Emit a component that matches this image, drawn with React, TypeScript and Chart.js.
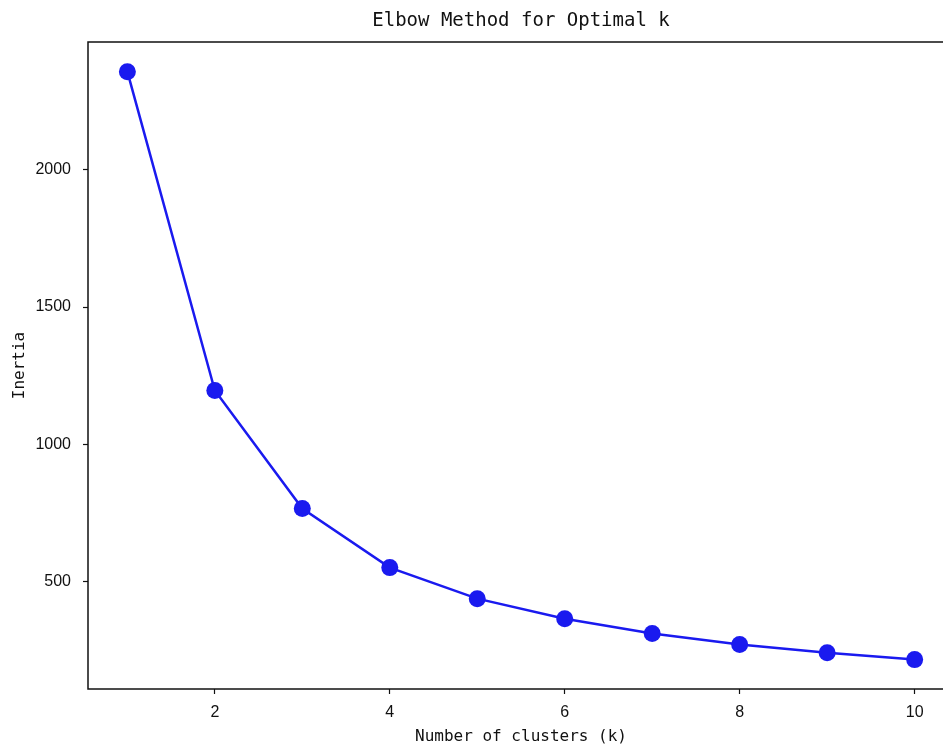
import React, { useEffect, useRef } from "react";
import { Chart, registerables } from "chart.js";

Chart.register(...registerables);

const clusterCounts = [1, 2, 3, 4, 5, 6, 7, 8, 9, 10];
const inertiaValues = [2357, 1196, 766, 551, 438, 365, 311, 271, 241, 216];
const xTicks = [2, 4, 6, 8, 10];
const yTicks = [500, 1000, 1500, 2000];

const CANVAS_W = 980;
const CANVAS_H = 745;

const framePlugin = {
  id: "frame",
  afterDraw(chart: any) {
    const { ctx, chartArea } = chart;
    ctx.save();
    ctx.strokeStyle = "#111";
    ctx.lineWidth = 1.5;
    ctx.strokeRect(chartArea.left, chartArea.top, chartArea.right - chartArea.left, chartArea.bottom - chartArea.top);
    ctx.restore();
  },
};

export default function App() {
  const ref = useRef<HTMLCanvasElement | null>(null);
  useEffect(() => {
    if (!ref.current) return;
    const chart = new Chart(ref.current, {
      type: "line",
      data: {
        datasets: [
          {
            data: clusterCounts.map((k, i) => ({ x: k, y: inertiaValues[i] })),
            borderColor: "#1a1aef",
            backgroundColor: "#1a1aef",
            borderWidth: 2.5,
            pointRadius: 8.5,
            pointHoverRadius: 8.5,
            pointBorderWidth: 0,
            tension: 0,
          },
        ],
      },
      options: {
        animation: false,
        responsive: false,
        devicePixelRatio: 1,
        layout: { padding: { left: 0, top: 0, right: 26, bottom: 0 } },
        plugins: {
          legend: { display: false },
          tooltip: { enabled: false },
          title: {
            display: true,
            text: "Elbow Method for Optimal k",
            fullSize: false,
            color: "#111",
            font: { family: "'DejaVu Sans Mono', monospace", size: 19, weight: "normal", lineHeight: 1 },
            padding: { top: 12, bottom: 11 },
          },
        },
        scales: {
          x: {
            type: "linear",
            min: 0.55,
            max: 10.45,
            afterBuildTicks: (s: any) => {
              s.ticks = xTicks.map((v) => ({ value: v }));
            },
            afterFit: (s: any) => {
              s.height = 56;
            },
            grid: { drawOnChartArea: false, tickLength: 5, color: "#111", tickWidth: 1.2 },
            border: { display: false },
            ticks: {
              color: "#111",
              padding: 9,
              font: { family: "'Liberation Sans', Arial, sans-serif", size: 16 },
              maxRotation: 0,
              autoSkip: false,
              callback: (v: any) => String(v),
            },
            title: {
              display: true,
              text: "Number of clusters (k)",
              color: "#111",
              font: { family: "'DejaVu Sans Mono', monospace", size: 16, lineHeight: 1 },
              padding: { top: 0, bottom: 0 },
            },
          },
          y: {
            type: "linear",
            min: 109,
            max: 2465,
            afterBuildTicks: (s: any) => {
              s.ticks = yTicks.map((v) => ({ value: v }));
            },
            afterFit: (s: any) => {
              s.width = 88;
            },
            grid: { drawOnChartArea: false, tickLength: 5, color: "#111", tickWidth: 1.2 },
            border: { display: false },
            ticks: {
              color: "#111",
              padding: 12,
              font: { family: "'Liberation Sans', Arial, sans-serif", size: 16 },
              autoSkip: false,
              callback: (v: any) => String(v),
            },
            title: {
              display: true,
              text: "Inertia",
              color: "#111",
              font: { family: "'DejaVu Sans Mono', monospace", size: 16, lineHeight: 1 },
              padding: { top: 12, bottom: 0 },
            },
          },
        },
      },
      plugins: [framePlugin],
    } as any);
    return () => chart.destroy();
  }, []);

  return (
    <div
      style={{
        position: "fixed",
        left: 0,
        top: 0,
        width: 943,
        height: 745,
        overflow: "hidden",
        background: "#fff",
      }}
    >
      <canvas ref={ref} width={CANVAS_W} height={CANVAS_H} style={{ display: "block", width: CANVAS_W, height: CANVAS_H }} />
    </div>
  );
}
